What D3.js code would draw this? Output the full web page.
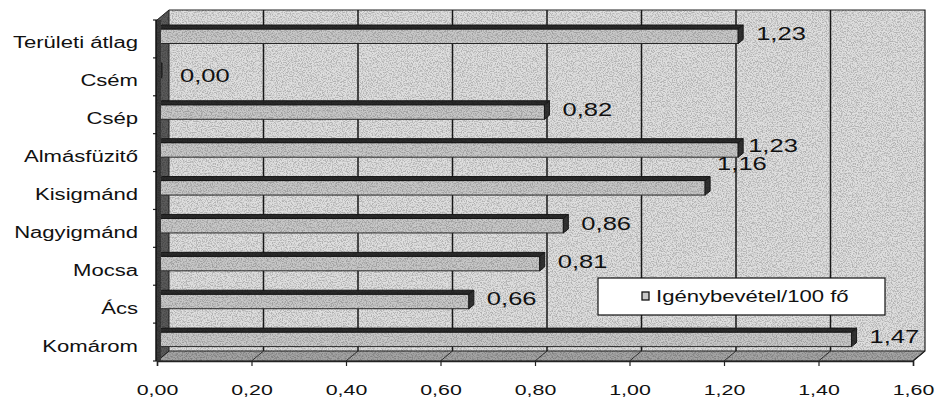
<!DOCTYPE html>
<html>
<head>
<meta charset="utf-8">
<script src="https://cdn.jsdelivr.net/npm/d3@7"></script>
<style>
  html, body { margin: 0; padding: 0; background: #fff; }
  svg { display: block; }
  text { font-family: "Liberation Sans", Arial, sans-serif; fill: #111; }
</style>
</head>
<body>
<svg id="chart" width="940" height="403"></svg>
<script>
// ---- data ----
const categories = ["Területi átlag", "Csém", "Csép", "Almásfüzitő", "Kisigmánd", "Nagyigmánd", "Mocsa", "Ács", "Komárom"];
const values = [1.23, 0.00, 0.82, 1.23, 1.16, 0.86, 0.81, 0.66, 1.47];
const xTicks = [0, 0.2, 0.4, 0.6, 0.8, 1.0, 1.2, 1.4, 1.6];
const seriesName = "Igénybevétel/100 fő";

// ---- layout ----
const X0 = 157, X1 = 913, FT = 20, FB = 361, DX = 12, DY = 10;
const SX = 1.38; // horizontal stretch of the scanned text
const labelNudge = { "Kisigmánd": [-6, -22], "Almásfüzitő": [-8, -2], "Csém": [5, 4] };

const svg = d3.select("#chart");
const x = d3.scaleLinear().domain([0, 1.6]).range([X0, X1]);
const y = d3.scaleBand().domain(categories).range([FT, FB]).padding(0);
const loc = d3.formatLocale({ decimal: ",", thousands: " ", grouping: [3], currency: ["", ""] });
const fmt = loc.format(".2f");

const defs = svg.append("defs");
const filt = defs.append("filter").attr("id", "grain")
  .attr("filterUnits", "userSpaceOnUse").attr("x", 0).attr("y", 0).attr("width", 940).attr("height", 403);
filt.append("feTurbulence").attr("type", "fractalNoise").attr("baseFrequency", 0.8).attr("numOctaves", 2).attr("seed", 7);
filt.append("feColorMatrix").attr("type", "matrix")
  .attr("values", "0 0 0 0 0  0 0 0 0 0  0 0 0 0 0  -4 0 0 0 2.3");
const plotPoly = [[X0, FT], [X0 + DX, FT - DY], [X1 + DX, FT - DY], [X1 + DX, FB - DY], [X1, FB], [X0, FB]];
defs.append("clipPath").attr("id", "plotClip").append("polygon").attr("points", plotPoly.map(p => p.join(",")).join(" "));

const plot = svg.append("g");

// back wall
plot.append("rect")
  .attr("x", X0 + DX).attr("y", FT - DY)
  .attr("width", X1 - X0).attr("height", FB - FT)
  .attr("fill", "#dfdfdf");
// floor
plot.append("polygon")
  .attr("points", [[X0, FB], [X0 + DX, FB - DY], [X1 + DX, FB - DY], [X1, FB]].map(p => p.join(",")).join(" "))
  .attr("fill", "#a4a4a4").attr("stroke", "#222").attr("stroke-width", 1);
// left wall
plot.append("polygon")
  .attr("points", [[X0, FT], [X0 + DX, FT - DY], [X0 + DX, FB - DY], [X0, FB]].map(p => p.join(",")).join(" "))
  .attr("fill", "#5a5a5a").attr("stroke", "#222").attr("stroke-width", 1);

// gridlines on back wall and floor
const gridVals = xTicks.filter(v => v > 0 && v < 1.6);
plot.selectAll("line.grid").data(gridVals).join("line").attr("class", "grid")
  .attr("x1", d => x(d) + DX).attr("x2", d => x(d) + DX)
  .attr("y1", FT - DY).attr("y2", FB - DY)
  .attr("stroke", "#1a1a1a").attr("stroke-width", 1.5);
plot.selectAll("line.fgrid").data(gridVals).join("line").attr("class", "fgrid")
  .attr("x1", d => x(d) + DX).attr("x2", d => x(d))
  .attr("y1", FB - DY).attr("y2", FB)
  .attr("stroke", "#333").attr("stroke-width", 1);
// back wall top & right edges
plot.append("polyline")
  .attr("points", [[X0 + DX, FT - DY], [X1 + DX, FT - DY], [X1 + DX, FB - DY], [X1, FB]].map(p => p.join(",")).join(" "))
  .attr("fill", "none").attr("stroke", "#222").attr("stroke-width", 1.2);

// bars (3D)
const FACE_OFF = 9, FACE_H = 14.5, BDX = 5, BDY = 4;
const bars = plot.selectAll("g.bar").data(categories.map((c, i) => ({ c, v: values[i] }))).join("g").attr("class", "bar");
bars.append("rect")
  .attr("x", d => x(0)).attr("y", d => y(d.c) + FACE_OFF)
  .attr("width", d => x(d.v) - x(0)).attr("height", FACE_H)
  .attr("fill", "#c8c8c8").attr("stroke", "#2a2a2a").attr("stroke-width", 1);
bars.append("polygon")
  .attr("points", d => {
    const t = y(d.c) + FACE_OFF, a = x(0), b = x(d.v);
    return [[a, t], [b, t], [b + BDX, t - BDY], [a + BDX, t - BDY]].map(p => p.join(",")).join(" ");
  })
  .attr("fill", "#2b2b2b").attr("stroke", "#1a1a1a").attr("stroke-width", 1);
bars.append("polygon")
  .attr("points", d => {
    const t = y(d.c) + FACE_OFF, b = x(d.v);
    return [[b, t], [b + BDX, t - BDY], [b + BDX, t - BDY + FACE_H], [b, t + FACE_H]].map(p => p.join(",")).join(" ");
  })
  .attr("fill", "#333").attr("stroke", "#1a1a1a").attr("stroke-width", 1);

// front edge of the left wall, visible in front of the bars
plot.append("rect").attr("x", X0 - 1).attr("y", FT).attr("width", 5).attr("height", FB - FT)
  .attr("fill", "#3c3c3c");

// grain overlay
svg.append("rect").attr("x", 0).attr("y", 0).attr("width", 940).attr("height", 403)
  .attr("clip-path", "url(#plotClip)").attr("filter", "url(#grain)")
  .attr("fill", "#000").attr("opacity", 0.2);

// left axis ticks at category boundaries
const bounds = categories.map(c => y(c)).concat([FB]);
svg.selectAll("line.ytick").data(bounds).join("line").attr("class", "ytick")
  .attr("x1", X0 - 4).attr("x2", X0).attr("y1", d => d).attr("y2", d => d)
  .attr("stroke", "#222").attr("stroke-width", 1.2);
svg.append("line").attr("x1", X0 - 1).attr("x2", X0 - 1).attr("y1", FT).attr("y2", FB)
  .attr("stroke", "#111").attr("stroke-width", 1.5);

// category labels
svg.selectAll("text.cat").data(categories).join("text").attr("class", "cat")
  .attr("text-anchor", "end").attr("font-size", 16)
  .attr("transform", d => `translate(138,${y(d) + y.bandwidth() / 2 + 9.5}) scale(${SX},1)`)
  .text(d => d);

// x axis
const xAxis = svg.append("g").attr("transform", `translate(0,${FB})`)
  .call(d3.axisBottom(x).tickValues(xTicks).tickSize(5).tickFormat(fmt));
xAxis.select(".domain").attr("stroke", "#222").attr("stroke-width", 1.5);
xAxis.selectAll(".tick line").attr("stroke", "#222").attr("stroke-width", 1.2);
xAxis.selectAll(".tick text")
  .attr("y", 0).attr("dy", 0)
  .attr("transform", `translate(0,34) scale(${SX},1)`)
  .attr("font-size", 15.5).attr("font-family", "Liberation Sans, Arial, sans-serif").attr("fill", "#111");

// value labels
svg.selectAll("text.val").data(categories.map((c, i) => ({ c, v: values[i] }))).join("text").attr("class", "val")
  .attr("font-size", 18.5)
  .attr("transform", d => {
    const n = labelNudge[d.c] || [0, 0];
    const tx = x(d.v) + 18 + n[0];
    const ty = y(d.c) + FACE_OFF + FACE_H / 2 + 4 + n[1];
    return `translate(${tx},${ty}) scale(${SX},1)`;
  })
  .text(d => fmt(d.v));

// legend
const lg = svg.append("g");
lg.append("rect").attr("x", 598).attr("y", 278).attr("width", 287).attr("height", 37)
  .attr("fill", "#fff").attr("stroke", "#111").attr("stroke-width", 1.2);
lg.append("rect").attr("x", 642).attr("y", 292).attr("width", 7).attr("height", 8)
  .attr("fill", "#c8c8c8").attr("stroke", "#111").attr("stroke-width", 1.3);
lg.append("text").attr("font-size", 16)
  .attr("transform", `translate(656,302) scale(${SX},1)`)
  .text(seriesName);
</script>
</body>
</html>
